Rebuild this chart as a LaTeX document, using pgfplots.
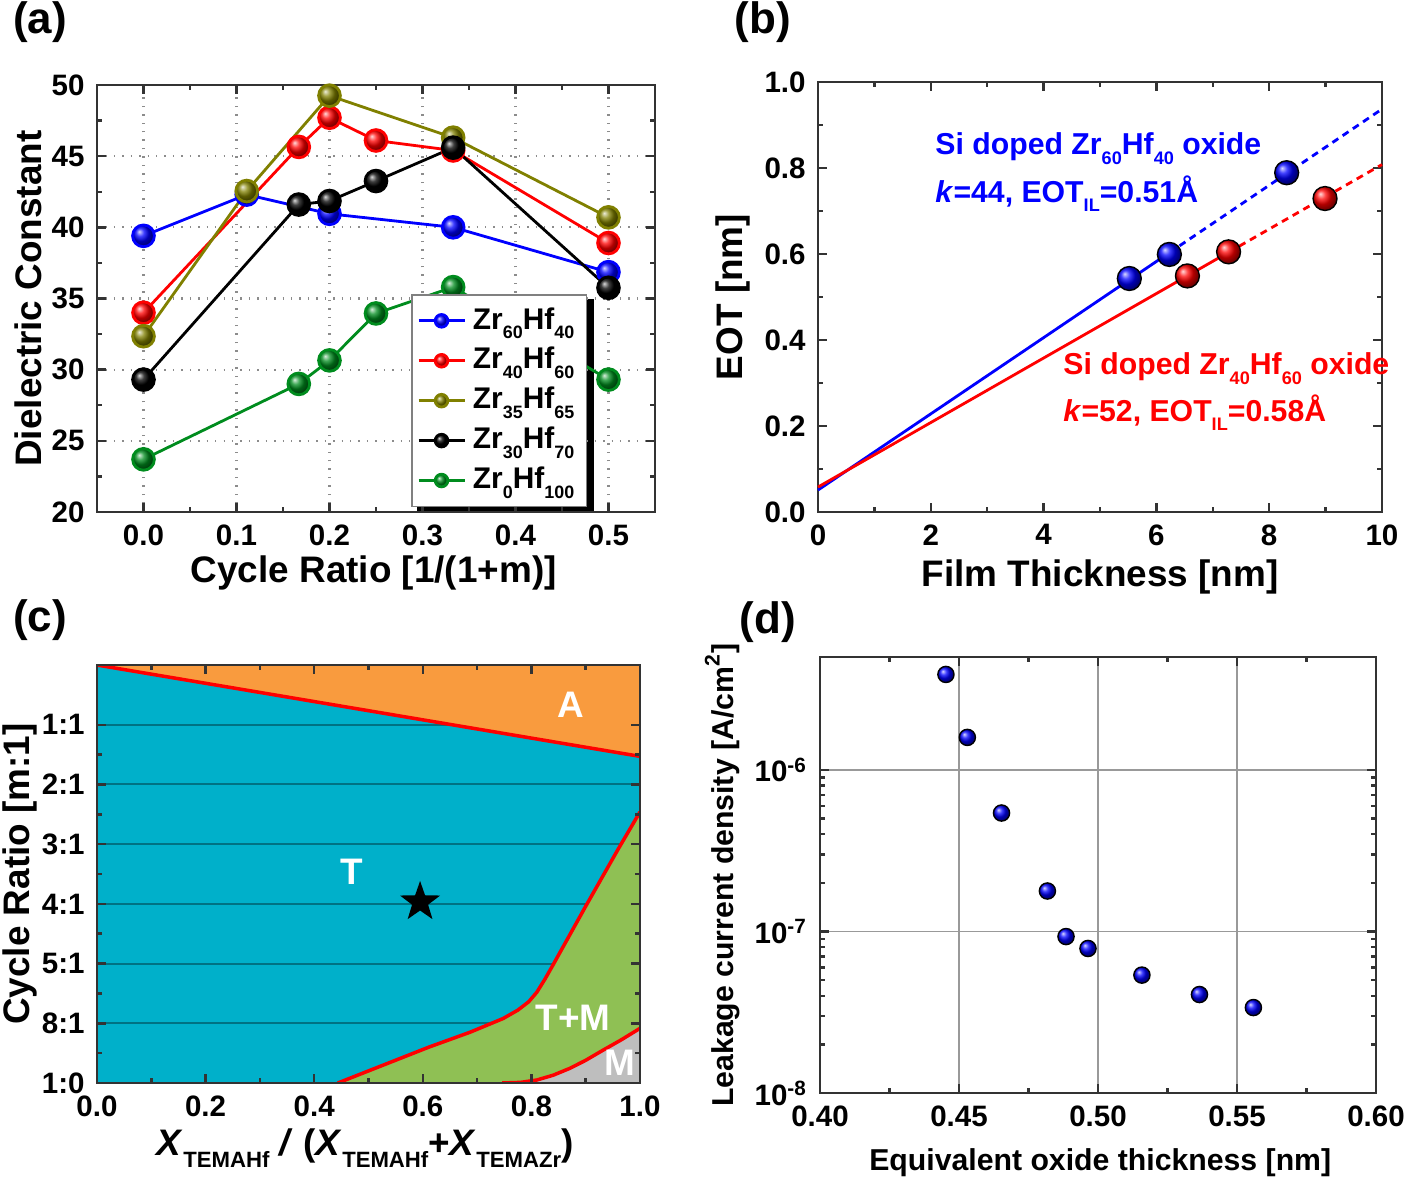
\documentclass[border=0pt]{standalone}
\usepackage{fontspec}
\setmainfont{Liberation Sans}
\usepackage{pgfplots}
\pgfplotsset{compat=1.18}
\usetikzlibrary{shapes.geometric,backgrounds}

\definecolor{olivec}{RGB}{128,128,0}
\definecolor{greenc}{RGB}{0,140,30}
\definecolor{orangec}{RGB}{249,155,62}
\definecolor{cyanc}{RGB}{0,176,202}
\definecolor{grnfill}{RGB}{143,192,84}
\definecolor{grayfill}{RGB}{190,190,190}

% small lowered subscript, as in the original figure
\newcommand{\sub}[1]{\raisebox{-0.6ex}{\scalebox{0.6}{#1}}}

% filled five-point star
\pgfdeclareplotmark{fstar}{\node[star,star points=5,star point ratio=2.5,fill=black,inner sep=0pt,minimum size=2\pgfplotmarksize]{};}

\pgfplotsset{
  panel/.style={scale only axis, anchor=south west,
    axis line style={black!80, line width=0.8pt},
    tick align=inside, tick pos=both,
    major tick length=0.09cm, minor tick length=0.05cm,
    tick style={black!80, line width=0.7pt},
    tick label style={font=\fontsize{8.4}{9}\selectfont\bfseries},
    label style={font=\fontsize{10.5}{12}\selectfont\bfseries},
    /pgf/number format/assume math mode=true},
}

\begin{document}
\begin{tikzpicture}
\path[use as bounding box] (0,0) rectangle (14.16,11.86);

% ---------- (a) ----------
\begin{axis}[panel, at={(0.97cm,6.74cm)}, width=5.58cm, height=4.27cm,
  xmin=-0.05, xmax=0.55, ymin=20, ymax=50,
  xtick={0,0.1,0.2,0.3,0.4,0.5}, ytick={20,25,30,35,40,45,50}, minor tick num=1,
  grid=major, major grid style={black!45, dotted, line width=0.6pt},
  xticklabel style={/pgf/number format/.cd,fixed,fixed zerofill,precision=1},
  xlabel={Cycle Ratio [1/(1+m)]}, ylabel={Dielectric Constant},
  xlabel style={at={(axis description cs:0.496,-0.143)}, anchor=center},
  ylabel style={at={(axis description cs:-0.124,0.5)}, anchor=center},
  every axis plot/.append style={line width=0.8pt, mark size=3.1pt},
  legend style={name=leg, at={(0.563,0.0117)}, anchor=south west, draw=black!50, fill=white,
    font=\fontsize{8.5}{9.5}\selectfont\bfseries, row sep=-0.3pt, inner sep=1.5pt},
  legend cell align=left,
  legend image code/.code={\draw[mark repeat=2,mark phase=2,#1,mark size=1.8pt]
    plot coordinates {(0cm,0cm) (0.23cm,0cm) (0.46cm,0cm)};}]
\addplot[blue, mark=ball, mark options={ball color=blue}] coordinates
  {(0,39.4) (0.111,42.3) (0.2,40.95) (0.333,40.0) (0.5,36.85)};
\addplot[red, mark=ball, mark options={ball color=red}] coordinates
  {(0,34.0) (0.167,45.65) (0.2,47.7) (0.25,46.1) (0.333,45.4) (0.5,38.9)};
\addplot[olivec, mark=ball, mark options={ball color=olivec}] coordinates
  {(0,32.35) (0.111,42.55) (0.2,49.25) (0.333,46.3) (0.5,40.7)};
\addplot[black, mark=ball, mark options={ball color=black}] coordinates
  {(0,29.3) (0.167,41.6) (0.2,41.85) (0.25,43.25) (0.333,45.6) (0.5,35.75)};
\addplot[greenc, mark=ball, mark options={ball color=greenc}] coordinates
  {(0,23.7) (0.167,29.0) (0.2,30.65) (0.25,33.95) (0.333,35.8) (0.5,29.3)};
\legend{Zr\sub{60}Hf\sub{40}, Zr\sub{40}Hf\sub{60}, Zr\sub{35}Hf\sub{65},
  Zr\sub{30}Hf\sub{70}, Zr\sub{0}Hf\sub{100}}
\end{axis}
% black shadow behind the legend box
\begin{pgfonlayer}{background}
\fill[black] ([xshift=1.8pt,yshift=-1.3pt]leg.south west) rectangle ([xshift=1.8pt,yshift=-1.3pt]leg.north east);
\end{pgfonlayer}

% ---------- (b) ----------
\begin{axis}[panel, at={(8.18cm,6.74cm)}, width=5.64cm, height=4.30cm,
  xmin=0, xmax=10, ymin=0, ymax=1, clip=false,
  xtick={0,2,4,6,8,10}, ytick={0,0.2,0.4,0.6,0.8,1}, minor tick num=1,
  yticklabel style={/pgf/number format/.cd,fixed,fixed zerofill,precision=1},
  xlabel={Film Thickness [nm]}, ylabel={EOT [nm]},
  xlabel style={at={(axis description cs:0.5,-0.151)}, anchor=center},
  ylabel style={at={(axis description cs:-0.151,0.5)}, anchor=center}]
\addplot[blue, line width=0.8pt] coordinates {(0,0.051) (6.23,0.603)};
\addplot[blue, line width=0.8pt, dash pattern=on 2pt off 1.5pt] coordinates {(6.23,0.603) (10,0.937)};
\addplot[red, line width=0.8pt] coordinates {(0,0.058) (7.28,0.604)};
\addplot[red, line width=0.8pt, dash pattern=on 2pt off 1.5pt] coordinates {(7.28,0.604) (10,0.808)};
\addplot[only marks, mark=ball, mark size=3.4pt, mark options={ball color=blue}] coordinates
  {(5.52,0.543) (6.23,0.599) (8.31,0.789)};
\addplot[only marks, mark=ball, mark size=3.4pt, mark options={ball color=red}] coordinates
  {(6.55,0.549) (7.28,0.605) (8.99,0.729)};
\node[anchor=west, inner sep=0pt, text=blue, font=\fontsize{8.6}{9}\selectfont\bfseries] at (axis cs:2.07,0.845)
  {Si doped Zr\sub{60}Hf\sub{40} oxide};
\node[anchor=west, inner sep=0pt, text=blue, font=\fontsize{8.6}{9}\selectfont\bfseries] at (axis cs:2.07,0.740)
  {\textit{k}=44, EOT\sub{IL}=0.51Å};
\node[anchor=west, inner sep=0pt, text=red, font=\fontsize{8.6}{9}\selectfont\bfseries] at (axis cs:4.34,0.333)
  {Si doped Zr\sub{40}Hf\sub{60} oxide};
\node[anchor=west, inner sep=0pt, text=red, font=\fontsize{8.6}{9}\selectfont\bfseries] at (axis cs:4.34,0.231)
  {\textit{k}=52, EOT\sub{IL}=0.58Å};
\end{axis}

% ---------- (c) ----------
\begin{axis}[panel, at={(0.97cm,1.03cm)}, width=5.43cm, height=4.18cm,
  xmin=0, xmax=1, ymin=0, ymax=7, axis on top,
  xtick={0,0.2,0.4,0.6,0.8,1}, ytick={0,1,2,3,4,5,6},
  yticklabels={1:0,8:1,5:1,4:1,3:1,2:1,1:1}, minor tick num=1,
  xticklabel style={/pgf/number format/.cd,fixed,fixed zerofill,precision=1},
  xlabel={\textit{X}\sub{TEMAHf} \textit{/} (\textit{X}\sub{TEMAHf}+\textit{X}\sub{TEMAZr})},
  ylabel={Cycle Ratio [m:1]},
  xlabel style={at={(axis description cs:0.494,-0.156)}, anchor=center},
  ylabel style={at={(axis description cs:-0.142,0.5)}, anchor=center}]
\addplot[fill=cyanc, draw=none] coordinates {(0,0) (1,0) (1,7) (0,7)} -- cycle;
\pgfplotsinvokeforeach{1,...,6}{
  \addplot[black, opacity=0.35, line width=0.6pt] coordinates {(0,#1) (1,#1)};
}
\addplot[fill=orangec, draw=none] coordinates {(0,7) (1,7) (1,5.47)} -- cycle;
\addplot[fill=grnfill, draw=none] coordinates
  {(0.4435,0) (0.611,0.6) (0.687,0.85) (0.748,1.08) (0.775,1.22) (0.795,1.36)
   (0.81,1.52) (0.825,1.74) (0.84,1.98) (0.87,2.47) (0.90,2.96) (0.93,3.44)
   (0.96,3.92) (1,4.54) (1,0)} -- cycle;
\addplot[fill=grayfill, draw=none] coordinates
  {(0.746,0) (0.78,0.01) (0.81,0.05) (0.84,0.13) (0.871,0.246) (0.90,0.38)
   (0.932,0.55) (0.965,0.72) (1,0.915) (1,0)} -- cycle;
\addplot[red, line width=1pt] coordinates {(0,7) (1,5.47)};
\addplot[red, line width=1pt] coordinates
  {(0.4435,0) (0.611,0.6) (0.687,0.85) (0.748,1.08) (0.775,1.22) (0.795,1.36)
   (0.81,1.52) (0.825,1.74) (0.84,1.98) (0.87,2.47) (0.90,2.96) (0.93,3.44)
   (0.96,3.92) (1,4.54)};
\addplot[red, line width=1pt] coordinates
  {(0.746,0) (0.78,0.01) (0.81,0.05) (0.84,0.13) (0.871,0.246) (0.90,0.38)
   (0.932,0.55) (0.965,0.72) (1,0.915)};
\addplot[only marks, mark=fstar, mark size=6pt] coordinates {(0.595,3.03)};
\node[text=white, font=\fontsize{10.5}{12}\selectfont\bfseries] at (axis cs:0.873,6.33) {A};
\node[text=white, font=\fontsize{10.5}{12}\selectfont\bfseries] at (axis cs:0.47,3.54) {T};
\node[text=white, font=\fontsize{10.5}{12}\selectfont\bfseries] at (axis cs:0.877,1.1) {T+M};
\node[text=white, font=\fontsize{10.5}{12}\selectfont\bfseries] at (axis cs:0.963,0.33) {M};
\end{axis}

% ---------- (d) ----------
\begin{axis}[panel, at={(8.20cm,0.93cm)}, width=5.56cm, height=4.36cm,
  ymode=log, xmin=0.4, xmax=0.6, ymin=1e-8, ymax=5e-6,
  xtick={0.4,0.45,0.5,0.55,0.6}, minor x tick num=1,
  ytick={1e-8,1e-7,1e-6}, yticklabels={10\textsuperscript{-8},10\textsuperscript{-7},10\textsuperscript{-6}},
  grid=major, major grid style={black!40, line width=0.5pt},
  xticklabel style={/pgf/number format/.cd,fixed,fixed zerofill,precision=2},
  label style={font=\fontsize{8.6}{10}\selectfont\bfseries},
  xlabel={Equivalent oxide thickness [nm]}, ylabel={Leakage current density [A/cm\textsuperscript{2}]},
  xlabel style={at={(axis description cs:0.504,-0.16)}, anchor=center},
  ylabel style={at={(axis description cs:-0.176,0.5)}, anchor=center}]
\addplot[only marks, mark=ball, mark size=2.3pt, mark options={ball color=blue}] coordinates
  {(0.4453,3.90e-6) (0.4530,1.59e-6) (0.4653,5.41e-7) (0.4818,1.78e-7) (0.4885,9.3e-8)
   (0.4964,7.85e-8) (0.5158,5.37e-8) (0.5365,4.07e-8) (0.5559,3.38e-8)};
\end{axis}

\node[font=\fontsize{12.5}{14}\selectfont\bfseries] at (0.40,11.64) {(a)};
\node[font=\fontsize{12.5}{14}\selectfont\bfseries] at (7.63,11.64) {(b)};
\node[font=\fontsize{12.5}{14}\selectfont\bfseries] at (0.40,5.66) {(c)};
\node[font=\fontsize{12.5}{14}\selectfont\bfseries] at (7.68,5.64) {(d)};
\end{tikzpicture}
\end{document}
